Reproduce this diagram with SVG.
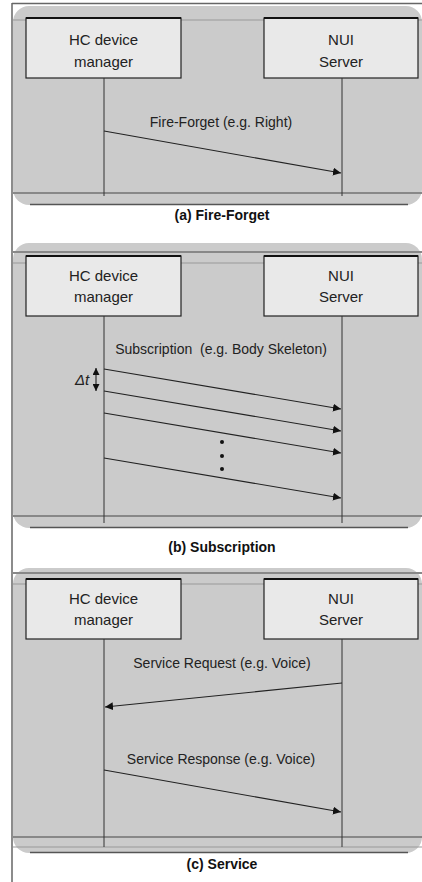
<svg xmlns="http://www.w3.org/2000/svg" width="422" height="882" viewBox="0 0 422 882">
<defs>
<marker id="ah" viewBox="0 0 10 10" refX="10" refY="5" markerWidth="8" markerHeight="8" markerUnits="userSpaceOnUse" orient="auto">
<path d="M0,0 L10,5 L0,10 z" fill="#111"/>
</marker>
<marker id="ahs" viewBox="0 0 10 10" refX="10" refY="5" markerWidth="7" markerHeight="7" markerUnits="userSpaceOnUse" orient="auto">
<path d="M0,0 L10,5 L0,10 z" fill="#111"/>
</marker>
</defs>
<style>
.panel{fill:#cbcbcb;stroke:none}
.edge{stroke:#555;stroke-width:1.5;fill:none}
.hl{stroke:#888;stroke-width:2}
.hl2{stroke:#999;stroke-width:1}
.box{fill:#e9e9e9;stroke:#222;stroke-width:1.2}
.boxtop{stroke:#111;stroke-width:2}
.life{stroke:#333;stroke-width:1;fill:none}
.msg{stroke:#222;stroke-width:1.1;fill:none;marker-end:url(#ah)}
.t{font-family:"Liberation Sans",Arial,sans-serif;font-size:15px;fill:#222;text-anchor:middle}
.l{font-family:"Liberation Sans",Arial,sans-serif;font-size:14px;fill:#222;text-anchor:middle;white-space:pre}
.cap{font-family:"Liberation Sans",Arial,sans-serif;font-size:14px;font-weight:bold;fill:#111;text-anchor:middle}
</style>
<rect width="422" height="882" fill="#ffffff"/>
<!-- outer frame -->
<line x1="12" y1="3.5" x2="422" y2="3.5" stroke="#666" stroke-width="1.5"/>
<line x1="12" y1="3" x2="12" y2="882" stroke="#666" stroke-width="1.5"/>

<!-- Panel (a) -->
<g id="panel-a">
<rect class="panel" x="13" y="6" width="409" height="199" rx="16"/>
<line class="hl2" x1="13" y1="20" x2="422" y2="20"/>
<line class="hl" x1="13" y1="193" x2="422" y2="193"/>
<path class="edge" d="M30,204.5 L408,204.5"/>
</g>
<g id="a-hc">
<rect class="box" x="26" y="18" width="155" height="60"/>
<line class="boxtop" x1="26" y1="18" x2="181" y2="18"/>
<text class="t" x="103.5" y="45">HC device</text>
<text class="t" x="103.5" y="67">manager</text>
</g>
<g id="a-nui">
<rect class="box" x="264" y="18" width="154" height="60"/>
<line class="boxtop" x1="264" y1="18" x2="418" y2="18"/>
<text class="t" x="341" y="45">NUI</text>
<text class="t" x="341" y="67">Server</text>
</g>
<g id="a-connectors">
<line class="life" x1="104" y1="78" x2="104" y2="196"/>
<line class="life" x1="342" y1="78" x2="342" y2="196"/>
<line class="msg" x1="104" y1="131" x2="341" y2="173"/>
<text class="l" x="221" y="127">Fire-Forget (e.g. Right)</text>
</g>
<text class="cap" x="222" y="220">(a) Fire-Forget</text>

<!-- Panel (b) -->
<g id="panel-b">
<rect class="panel" x="13" y="243" width="409" height="285" rx="16"/>
<line class="hl" x1="13" y1="252" x2="422" y2="252"/>
<line class="hl2" x1="13" y1="263" x2="422" y2="263"/>
<line class="hl" x1="13" y1="516" x2="422" y2="516"/>
<path class="edge" d="M30,527.5 L408,527.5"/>
</g>
<g id="b-hc">
<rect class="box" x="26" y="256" width="155" height="60"/>
<line class="boxtop" x1="26" y1="256" x2="181" y2="256"/>
<text class="t" x="103.5" y="281">HC device</text>
<text class="t" x="103.5" y="302">manager</text>
</g>
<g id="b-nui">
<rect class="box" x="264" y="256" width="154" height="60"/>
<line class="boxtop" x1="264" y1="256" x2="418" y2="256"/>
<text class="t" x="341" y="281">NUI</text>
<text class="t" x="341" y="302">Server</text>
</g>
<g id="b-connectors">
<line class="life" x1="104" y1="316" x2="104" y2="523"/>
<line class="life" x1="342" y1="316" x2="342" y2="523"/>
<text class="l" x="221" y="354" xml:space="preserve">Subscription  (e.g. Body Skeleton)</text>
<line class="msg" x1="104" y1="369" x2="341" y2="409"/>
<line class="msg" x1="104" y1="391" x2="341" y2="431"/>
<line class="msg" x1="104" y1="413" x2="341" y2="453"/>
<line class="msg" x1="104" y1="458" x2="341" y2="498"/>
<circle cx="222" cy="442" r="2" fill="#111"/>
<circle cx="222" cy="456" r="2" fill="#111"/>
<circle cx="222" cy="469" r="2" fill="#111"/>
<line x1="96" y1="379" x2="96" y2="368" stroke="#111" stroke-width="1" marker-end="url(#ahs)"/>
<line x1="96" y1="379" x2="96" y2="391" stroke="#111" stroke-width="1" marker-end="url(#ahs)"/>
<text x="82" y="385" font-family="'Liberation Sans',Arial,sans-serif" font-size="15" font-style="italic" fill="#222" text-anchor="middle">Δt</text>
</g>
<text class="cap" x="222" y="552">(b) Subscription</text>

<!-- Panel (c) -->
<g id="panel-c">
<rect class="panel" x="13" y="568" width="409" height="285" rx="16"/>
<line class="hl" x1="13" y1="573" x2="422" y2="573"/>
<line class="hl2" x1="13" y1="584" x2="422" y2="584"/>
<line class="hl" x1="13" y1="837" x2="422" y2="837"/>
<line class="hl2" x1="13" y1="847" x2="422" y2="847"/>
<path class="edge" d="M30,852.5 L408,852.5"/>
</g>
<g id="c-hc">
<rect class="box" x="26" y="579" width="155" height="60"/>
<line class="boxtop" x1="26" y1="579" x2="181" y2="579"/>
<text class="t" x="103.5" y="604">HC device</text>
<text class="t" x="103.5" y="625">manager</text>
</g>
<g id="c-nui">
<rect class="box" x="264" y="579" width="154" height="60"/>
<line class="boxtop" x1="264" y1="579" x2="418" y2="579"/>
<text class="t" x="341" y="604">NUI</text>
<text class="t" x="341" y="625">Server</text>
</g>
<g id="c-connectors">
<line class="life" x1="104" y1="639" x2="104" y2="847"/>
<line class="life" x1="342" y1="639" x2="342" y2="847"/>
<text class="l" x="222" y="668">Service Request (e.g. Voice)</text>
<line class="msg" x1="342" y1="683" x2="105" y2="707"/>
<text class="l" x="221" y="764">Service Response (e.g. Voice)</text>
<line class="msg" x1="104" y1="770" x2="341" y2="812"/>
</g>
<text class="cap" x="222" y="869">(c) Service</text>
</svg>
